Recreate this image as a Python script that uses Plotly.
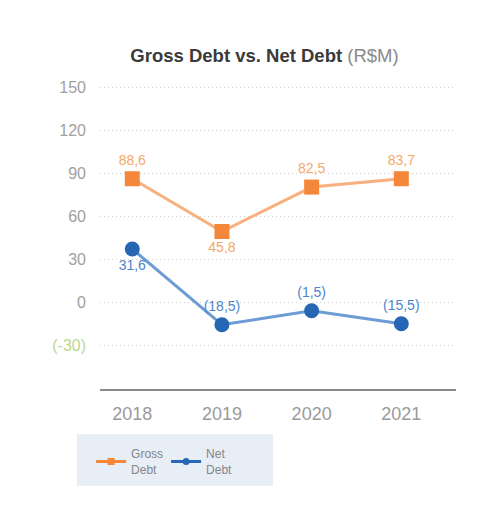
import plotly.graph_objects as go

years = ["2018", "2019", "2020", "2021"]
gross_values = [86.3, 49.6, 80.5, 86.3]
net_values = [37.4, -15.3, -5.6, -14.6]
gross_labels = ["88,6", "45,8", "82,5", "83,7"]
net_labels = ["31,6", "(18,5)", "(1,5)", "(15,5)"]
gross_textpos = ["top center", "bottom center", "top center", "top center"]
net_textpos = ["bottom center", "top center", "top center", "top center"]
y_ticks = [-30, 0, 30, 60, 90, 120, 150]
y_ticktext = ["<span style='color:#BCD78F'>(-30)</span>", "0", "30", "60", "90", "120", "150"]

FONT = "Liberation Sans, Arial, sans-serif"
ORANGE_LINE, ORANGE_MARK, ORANGE_TEXT = "#F8B07E", "#F5873A", "#F5A868"
BLUE_LINE, BLUE_MARK, BLUE_TEXT = "#6D9CD3", "#2566B5", "#4D86C9"

fig = go.Figure()
fig.add_trace(go.Scatter(
    x=years, y=gross_values, name="Gross<br>Debt", showlegend=False,
    mode="lines+markers+text",
    line=dict(color=ORANGE_LINE, width=3),
    marker=dict(symbol="square", size=15, color=ORANGE_MARK),
    text=gross_labels, textposition=gross_textpos,
    textfont=dict(color=ORANGE_TEXT, size=14, family=FONT),
    cliponaxis=False,
))
fig.add_trace(go.Scatter(
    x=years, y=net_values, name="Net<br>Debt", showlegend=False,
    mode="lines+markers+text",
    line=dict(color=BLUE_LINE, width=3),
    marker=dict(symbol="circle", size=15, color=BLUE_MARK),
    text=net_labels, textposition=net_textpos,
    textfont=dict(color=BLUE_TEXT, size=14, family=FONT),
    cliponaxis=False,
))
# legend-only entries with small symbols
fig.add_trace(go.Scatter(
    x=[None], y=[None], name="Gross<br>Debt", mode="lines+markers",
    line=dict(color=ORANGE_MARK, width=3),
    marker=dict(symbol="square", size=7, color=ORANGE_MARK),
))
fig.add_trace(go.Scatter(
    x=[None], y=[None], name="Net<br>Debt", mode="lines+markers",
    line=dict(color=BLUE_MARK, width=3),
    marker=dict(symbol="circle", size=7, color=BLUE_MARK),
))

fig.add_shape(type="rect", xref="paper", yref="paper",
              x0=-0.0646, x1=0.486, y0=-0.314, y1=-0.1456,
              fillcolor="#E8EEF6", line=dict(width=0), layer="below")

fig.update_layout(
    width=500, height=513,
    margin=dict(l=100, r=44, t=80, b=124),
    paper_bgcolor="white", plot_bgcolor="white",
    font=dict(family=FONT, color="#999999"),
    title=dict(
        text="<b>Gross Debt vs. Net Debt</b> <span style='color:#8a8a8a'>(R$M)</span>",
        x=0.529, xanchor="center", y=0.891, yanchor="middle", yref="container",
        font=dict(size=18.5, color="#3a3a3a", family=FONT),
    ),
    showlegend=True,
    legend=dict(
        orientation="h", x=-0.025, xanchor="left", y=-0.236, yanchor="middle",
        bgcolor="rgba(0,0,0,0)", font=dict(size=12, color="#858585", family=FONT),
        entrywidth=30, entrywidthmode="pixels",
    ),
    xaxis=dict(
        type="category", range=[-0.36, 3.61],
        showgrid=False, zeroline=False,
        showline=True, linecolor="#8a8a8a", linewidth=2,
        tickfont=dict(size=18, color="#9a9a9a"),
        ticks="", ticklabelstandoff=7,
    ),
    yaxis=dict(
        range=[-60, 155], tickvals=y_ticks, ticktext=y_ticktext,
        showgrid=True, gridcolor="#CFCFCF", griddash="1px,3px", gridwidth=1,
        zeroline=False, showline=False,
        tickfont=dict(size=16, color="#a0a0a0"),
        ticks="", ticklabelstandoff=13,
    ),
)

fig.write_html("out.html")
